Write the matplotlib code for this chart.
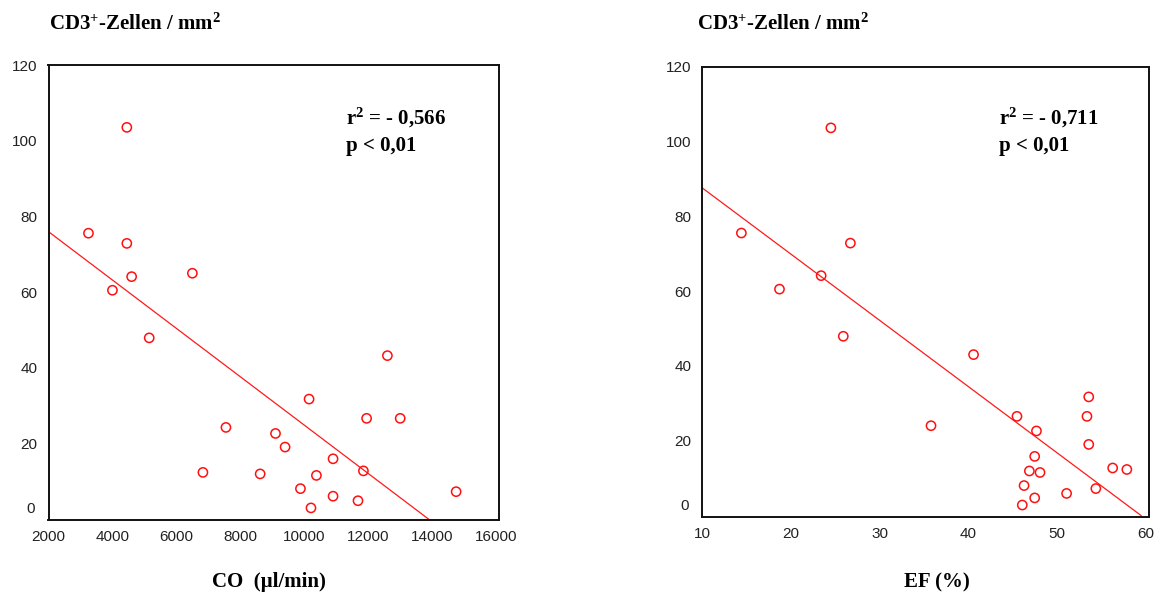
import numpy as np
import matplotlib
matplotlib.use("Agg")
import matplotlib.pyplot as plt

plt.rcParams['mathtext.fontset'] = 'custom'
plt.rcParams['mathtext.rm'] = 'Liberation Serif:weight=bold'
plt.rcParams['mathtext.bf'] = 'Liberation Serif:weight=bold'
plt.rcParams['mathtext.it'] = 'Liberation Serif:weight=bold'

# ---- data: left panel (CO vs CD3+ cells) ----
co_x = [4450, 3250, 4450, 4600, 4000, 6500, 5150, 12600, 10150, 11950,
        13000, 7550, 9100, 9400, 10900, 11850, 6830, 8620, 10380, 9880,
        10900, 11680, 10210, 14750]
co_y = [103.6, 75.6, 72.9, 64.1, 60.5, 65.0, 47.9, 43.2, 31.7, 26.6,
        26.6, 24.2, 22.6, 19.0, 15.9, 12.7, 12.3, 11.9, 11.5, 8.0,
        6.0, 4.8, 2.9, 7.2]
co_fit = (88.8, -0.006399)   # intercept, slope
co_xticks = [2000, 4000, 6000, 8000, 10000, 12000, 14000, 16000]

# ---- data: right panel (EF vs CD3+ cells) ----
ef_x = [24.5, 14.4, 26.7, 23.4, 18.7, 25.9, 40.6, 53.6, 45.5, 53.4,
        35.8, 47.7, 53.6, 47.5, 46.9, 48.1, 56.3, 57.9, 46.3, 54.4,
        51.1, 47.5, 46.1]
ef_y = [103.6, 75.5, 72.8, 64.1, 60.5, 47.9, 43.0, 31.7, 26.5, 26.5,
        24.0, 22.6, 19.0, 15.8, 11.9, 11.5, 12.7, 12.3, 8.0, 7.2,
        5.9, 4.7, 2.8]
ef_fit = (105.2, -1.768)
ef_xticks = [10, 20, 30, 40, 50, 60]

yticks = [0, 20, 40, 60, 80, 100, 120]

ylabel_text = r"CD3$^{\mathbf{+}}$-Zellen / mm$^{\mathbf{2}}$"
stats_left = [r"r$^{\mathbf{2}}$ = - 0,566", "p < 0,01"]
stats_right = [r"r$^{\mathbf{2}}$ = - 0,711", "p < 0,01"]
xlabel_left = "CO  (µl/min)"
xlabel_right = "EF (%)"

W, H = 1160, 593
fig = plt.figure(figsize=(W / 100, H / 100), dpi=100)
fig.patch.set_facecolor('white')

tick_font = dict(family='Liberation Sans', size=11, color='#222222')
serif_bold = dict(family=['Liberation Serif', 'DejaVu Serif'], weight='bold',
                  color='black')


def panel(rect, xs, ys, fit, xticks, xlim, ylim):
    ax = fig.add_axes(rect)
    ax.scatter(xs, ys, s=44, facecolors='none', edgecolors='#ff1010',
               linewidths=1.1, zorder=3, clip_on=False)
    b, m = fit
    x0 = xlim[0]
    x1 = -b / m
    xx = np.array([x0, x1])
    ax.plot(xx, b + m * xx, color='#ff1a1a', lw=0.9, zorder=2)
    ax.set_xlim(*xlim)
    ax.set_ylim(*ylim)
    ax.set_xticks(xticks)
    ax.set_xticklabels([str(t) for t in xticks], **tick_font)
    ax.set_yticks(yticks)
    ax.set_yticklabels(['' if t == 0 else str(t) for t in yticks], **tick_font)
    ax.annotate('0', xy=(0, 0), xycoords=('axes fraction', 'data'),
                xytext=(-10, 7), textcoords='offset points',
                ha='right', va='center', **tick_font)
    ax.tick_params(axis='both', length=0)
    ax.tick_params(axis='y', pad=8)
    ax.tick_params(axis='x', pad=7)
    for sp in ax.spines.values():
        sp.set_linewidth(1.4)
        sp.set_color('#111111')
    return ax


axL = panel([48.5 / W, 1 - 520 / H, (499.3 - 48.5) / W, (520 - 65.4) / H],
            co_x, co_y, co_fit, co_xticks, (2000, 16100), (-0.3, 120))
axR = panel([702.4 / W, 1 - 517 / H, (1149 - 702.4) / W, (517 - 66.5) / H],
            ef_x, ef_y, ef_fit, ef_xticks, (10, 60.4), (-0.4, 120))

# y-axis titles (top-left)
for x in (49, 697):
    fig.text(x / W, 1 - 29.5 / H, ylabel_text, fontsize=15, ha='left',
             va='baseline', **serif_bold)

# stats
for x, lines in ((346, stats_left), (999, stats_right)):
    fig.text(x / W, 1 - 124.5 / H, lines[0], fontsize=15, ha='left',
             va='baseline', **serif_bold)
    fig.text(x / W, 1 - 150.5 / H, lines[1], fontsize=15, ha='left',
             va='baseline', **serif_bold)

# x-axis titles
fig.text(269 / W, 1 - 587 / H, xlabel_left, fontsize=15, ha='center',
         va='baseline', **serif_bold)
fig.text(937 / W, 1 - 587 / H, xlabel_right, fontsize=15, ha='center',
         va='baseline', **serif_bold)

fig.savefig('out.png', dpi=100, facecolor='white')
